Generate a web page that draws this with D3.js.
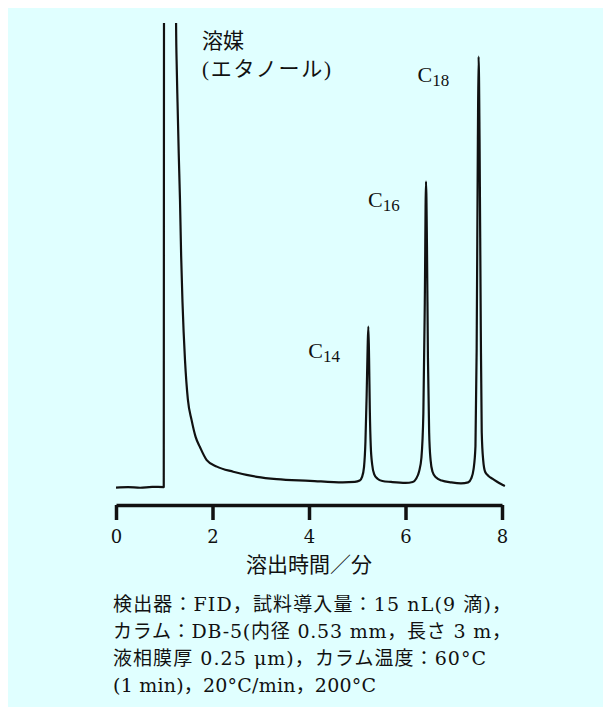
<!DOCTYPE html>
<html>
<head>
<meta charset="utf-8">
<script src="https://cdn.jsdelivr.net/npm/d3@7/dist/d3.min.js"></script>
<style>
  body { margin: 0; background: #fff; }
  svg { display: block; }
</style>
</head>
<body>
<svg id="chart"></svg>
<script>
// retention time (min) and detector signal (arbitrary units, 100 = top of scale)
const times = [
  0, 0.25, 0.5, 0.75, 0.99,
  0.995, 1.24, 1.245, 1.26, 1.275,
  1.3, 1.326, 1.35, 1.378, 1.43,
  1.49, 1.567, 1.65, 1.74, 1.88,
  2.09, 2.43, 2.92, 3.33, 4.02,
  4.7, 4.95, 5.05, 5.1, 5.14,
  5.17, 5.195, 5.215, 5.23, 5.245,
  5.26, 5.28, 5.31, 5.35, 5.42,
  5.52, 5.7, 6.0, 6.15, 6.22,
  6.28, 6.33, 6.37, 6.4, 6.425,
  6.445, 6.465, 6.49, 6.52, 6.56,
  6.63, 6.75, 6.95, 7.15, 7.3,
  7.36, 7.41, 7.45, 7.475, 7.5,
  7.515, 7.535, 7.56, 7.58, 7.61,
  7.65, 7.72, 7.8, 7.89, 7.97,
  8.06
];
const signal = [
  0.1, 0.2, 0.05, 0.25, 0.2,
  110, 110, 100, 90, 83,
  72, 62, 50, 40, 27.5,
  19, 14.6, 11, 8.8, 6,
  4.6, 3.5, 2.4, 1.9, 1.55,
  1.2, 1.3, 1.6, 2.4, 4.5,
  10, 20, 30, 34.7, 28,
  17, 9, 5, 3, 2,
  1.5, 1.3, 1.1, 1.3, 2.0,
  3.5, 6.5, 16, 40, 65.9,
  52, 28, 12, 6, 3.5,
  2.3, 1.6, 1.2, 1.0, 1.2,
  2.0, 4, 9, 30, 75,
  92.8, 75, 35, 12, 6,
  3.5, 2.6, 2.0, 1.4, 0.9,
  0.43
];

const tickValues = [0, 2, 4, 6, 8];
const axisTitle = '溶出時間／分';
const solventLabel = ['溶媒', '(エタノール)'];
const peakNames = ['14', '16', '18'];
const peakTimes = [5.23, 6.425, 7.515];
const peakHeights = [34.7, 65.9, 92.8];
const captionLines = [
  '検出器：FID，試料導入量：15 nL(9 滴)，',
  'カラム：DB-5(内径 0.53 mm，長さ 3 m，',
  '液相膜厚 0.25 μm)，カラム温度：60°C',
  '(1 min)，20°C/min，200°C'
];

const width = 603;
const height = 707;
const serif = '"Liberation Serif", "Noto Sans CJK JP", serif';
const wideSerif = '"DejaVu Serif", "Noto Sans CJK JP", serif';
const cjk = '"Noto Sans CJK JP", sans-serif';

const svg = d3.select('#chart')
  .attr('width', width)
  .attr('height', height);

// panel background
svg.append('rect')
  .attr('x', 8)
  .attr('y', 8)
  .attr('width', width - 8)
  .attr('height', height - 8)
  .attr('fill', '#e0ffff');

const x = d3.scaleLinear()
  .domain([0, 8])
  .range([116, 502]);

const y = d3.scaleLinear()
  .domain([0, 100])
  .range([488, 23]);

// solvent peak runs off the top of the scale
svg.append('clipPath')
  .attr('id', 'plot-clip')
  .append('rect')
  .attr('x', 0)
  .attr('y', y(100))
  .attr('width', width)
  .attr('height', y(0) - y(100) + 20);

const points = times.map((t, i) => [t, signal[i]]);

const line = d3.line()
  .curve(d3.curveMonotoneX)
  .x(d => x(d[0]))
  .y(d => y(d[1]));

svg.append('path')
  .datum(points)
  .attr('clip-path', 'url(#plot-clip)')
  .attr('fill', 'none')
  .attr('stroke', '#111')
  .attr('stroke-width', 2.2)
  .attr('stroke-linejoin', 'round')
  .attr('d', line);

// x axis
const axisY = 505;
const xAxis = svg.append('g')
  .attr('transform', `translate(0,${axisY})`)
  .call(d3.axisBottom(x)
    .tickValues(tickValues)
    .tickSize(15)
    .tickSizeOuter(0)
    .tickFormat(d3.format('d')));

xAxis.select('.domain')
  .attr('stroke', '#111')
  .attr('stroke-width', 3.5);

xAxis.selectAll('.tick line')
  .attr('stroke', '#111')
  .attr('stroke-width', 3.5);

xAxis.selectAll('.tick text')
  .attr('y', 38)
  .attr('dy', 0)
  .attr('fill', '#111')
  .attr('font-family', wideSerif)
  .attr('font-size', 18);

svg.append('text')
  .attr('x', x(4))
  .attr('y', 572)
  .attr('text-anchor', 'middle')
  .attr('font-family', cjk)
  .attr('font-size', 21)
  .attr('fill', '#111')
  .text(axisTitle);

// solvent label
const solventWidth = [null, 129];
svg.selectAll('.solvent-label')
  .data(solventLabel)
  .join('text')
  .attr('class', 'solvent-label')
  .attr('x', 202)
  .attr('y', (d, i) => 48 + i * 28)
  .attr('font-family', serif)
  .attr('font-size', 21)
  .attr('fill', '#111')
  .attr('textLength', (d, i) => solventWidth[i])
  .attr('lengthAdjust', 'spacing')
  .text(d => d);

// peak labels, placed up and to the left of each apex
const labelDx = [-60, -58, -61];
const labelDy = [31, 25, 26];

const peakLabel = svg.selectAll('.peak-label')
  .data(peakNames)
  .join('text')
  .attr('class', 'peak-label')
  .attr('x', (d, i) => x(peakTimes[i]) + labelDx[i])
  .attr('y', (d, i) => y(peakHeights[i]) + labelDy[i])
  .attr('font-family', serif)
  .attr('font-size', 22)
  .attr('fill', '#111');

peakLabel.append('tspan').text('C');
peakLabel.append('tspan')
  .attr('dy', 4)
  .attr('font-size', 17)
  .text(d => d);

// conditions caption, each line stretched to its width in the original
const captionWidth = [398, 398, 373, 263];
svg.selectAll('.caption')
  .data(captionLines)
  .join('text')
  .attr('class', 'caption')
  .attr('x', 113)
  .attr('y', (d, i) => 611 + i * 27)
  .attr('font-family', wideSerif)
  .attr('font-size', 19)
  .attr('fill', '#111')
  .attr('textLength', (d, i) => captionWidth[i])
  .attr('lengthAdjust', 'spacing')
  .text(d => d);
</script>
</body>
</html>
